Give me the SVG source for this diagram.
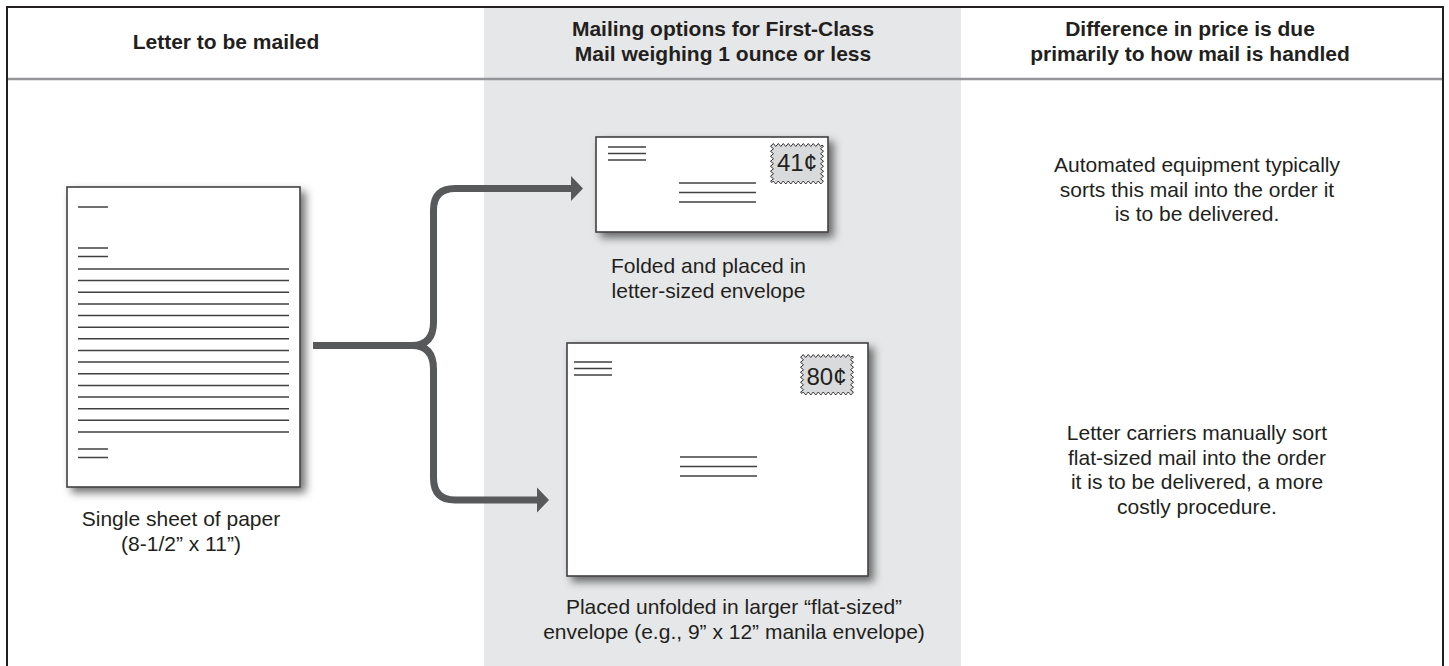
<svg xmlns="http://www.w3.org/2000/svg" xmlns:xlink="http://www.w3.org/1999/xlink" width="1449" height="666" viewBox="0 0 1449 666">
<style>
.hd{font-family:"Liberation Sans",Arial,Helvetica,sans-serif;font-weight:bold;font-size:21px;fill:#231f20;text-anchor:middle}
.tx{font-family:"Liberation Sans",Arial,Helvetica,sans-serif;font-size:21px;fill:#231f20;text-anchor:middle}
.st{font-family:"Liberation Sans",Arial,Helvetica,sans-serif;font-size:24px;fill:#231f20;text-anchor:middle}
.ln{stroke:#414042;stroke-width:1.5;fill:none}
.paper{fill:#ffffff;stroke:#414042;stroke-width:1.6}
.conn{fill:none;stroke:#58595b;stroke-width:7}
.ah{fill:#58595b}
</style>
<defs>
<filter id="sh" x="-10%" y="-10%" width="130%" height="130%">
<feDropShadow dx="5" dy="5" stdDeviation="4" flood-color="#000" flood-opacity="0.55"/>
</filter>
<path id="stamp" d="M0 0 q1.25 -3 2.5 0 t2.5 0 t2.5 0 t2.5 0 t2.5 0 t2.5 0 t2.5 0 t2.5 0 t2.5 0 t2.5 0 t2.5 0 t2.5 0 t2.5 0 t2.5 0 t2.5 0 t2.5 0 t2.5 0 t2.5 0 t2.5 0 t2.5 0 q3 1.25 0 2.5 t0 2.5 t0 2.5 t0 2.5 t0 2.5 t0 2.5 t0 2.5 t0 2.5 t0 2.5 t0 2.5 t0 2.5 t0 2.5 t0 2.5 t0 2.5 t0 2.5 q-1.25 3 -2.5 0 t-2.5 0 t-2.5 0 t-2.5 0 t-2.5 0 t-2.5 0 t-2.5 0 t-2.5 0 t-2.5 0 t-2.5 0 t-2.5 0 t-2.5 0 t-2.5 0 t-2.5 0 t-2.5 0 t-2.5 0 t-2.5 0 t-2.5 0 t-2.5 0 t-2.5 0 q-3 -1.25 0 -2.5 t0 -2.5 t0 -2.5 t0 -2.5 t0 -2.5 t0 -2.5 t0 -2.5 t0 -2.5 t0 -2.5 t0 -2.5 t0 -2.5 t0 -2.5 t0 -2.5 t0 -2.5 t0 -2.5 Z" fill="#d9dadb" stroke="#231f20" stroke-width="0.9"/>
</defs>

<g id="background">
<rect x="0" y="0" width="1449" height="666" fill="#ffffff"/>
<rect x="484" y="6" width="477" height="660" fill="#e6e7e8"/>
<line x1="7" y1="79" x2="1443" y2="79" stroke="#939598" stroke-width="2.5"/>
<path d="M7 666 V7 H1443 V666" fill="none" stroke="#231f20" stroke-width="2"/>
</g>

<g id="headers">
<text class="hd" x="226" y="49">Letter to be mailed</text>
<text class="hd" x="723" y="35.5">Mailing options for First-Class</text>
<text class="hd" x="723" y="60.5">Mail weighing 1 ounce or less</text>
<text class="hd" x="1190" y="35.5">Difference in price is due</text>
<text class="hd" x="1190" y="60.5">primarily to how mail is handled</text>
</g>

<g id="letter">
<rect class="paper" x="67" y="187" width="233" height="300" filter="url(#sh)"/>
<g class="ln">
<line x1="78" y1="207" x2="108" y2="207"/>
<line x1="78" y1="248" x2="108" y2="248"/>
<line x1="78" y1="256.5" x2="108" y2="256.5"/>
<line x1="78" y1="269" x2="289" y2="269"/>
<line x1="78" y1="280.6" x2="289" y2="280.6"/>
<line x1="78" y1="292.3" x2="289" y2="292.3"/>
<line x1="78" y1="303.9" x2="289" y2="303.9"/>
<line x1="78" y1="315.6" x2="289" y2="315.6"/>
<line x1="78" y1="327.2" x2="289" y2="327.2"/>
<line x1="78" y1="338.8" x2="289" y2="338.8"/>
<line x1="78" y1="350.5" x2="289" y2="350.5"/>
<line x1="78" y1="362.1" x2="289" y2="362.1"/>
<line x1="78" y1="373.8" x2="289" y2="373.8"/>
<line x1="78" y1="385.4" x2="289" y2="385.4"/>
<line x1="78" y1="397" x2="289" y2="397"/>
<line x1="78" y1="408.7" x2="289" y2="408.7"/>
<line x1="78" y1="420.3" x2="289" y2="420.3"/>
<line x1="78" y1="432" x2="289" y2="432"/>
<line x1="78" y1="449" x2="108" y2="449"/>
<line x1="78" y1="457.5" x2="108" y2="457.5"/>
</g>
<text class="tx" x="181" y="526">Single sheet of paper</text>
<text class="tx" x="181" y="551">(8-1/2” x 11”)</text>
</g>

<g id="connectors">
<path class="conn" d="M313 345.5 H414"/>
<path class="conn" d="M573 188.5 H455 Q433.5 188.5 433.5 210 V322 Q433.5 345.5 412 345.5 Q433.5 345.5 433.5 369 V478 Q433.5 500 455 500 H540"/>
<polygon class="ah" points="571,176 583,188.5 571,201"/>
<polygon class="ah" points="537,487.5 549,500 537,512.5"/>
</g>

<g id="small-envelope">
<rect class="paper" x="596" y="137" width="232" height="95" filter="url(#sh)"/>
<g class="ln">
<line x1="608" y1="147" x2="646" y2="147"/>
<line x1="608" y1="153.5" x2="646" y2="153.5"/>
<line x1="608" y1="160" x2="646" y2="160"/>
<line x1="679" y1="183" x2="756" y2="183"/>
<line x1="679" y1="192.5" x2="756" y2="192.5"/>
<line x1="679" y1="202" x2="756" y2="202"/>
</g>
<use xlink:href="#stamp" x="772" y="145"/>
<text class="st" x="797" y="171">41¢</text>
<text class="tx" x="708.5" y="273">Folded and placed in</text>
<text class="tx" x="708.5" y="297.5">letter-sized envelope</text>
</g>

<g id="large-envelope">
<rect class="paper" x="567" y="343" width="301" height="233" filter="url(#sh)"/>
<g class="ln">
<line x1="574" y1="362" x2="612" y2="362"/>
<line x1="574" y1="368.5" x2="612" y2="368.5"/>
<line x1="574" y1="375" x2="612" y2="375"/>
<line x1="680" y1="457" x2="757" y2="457"/>
<line x1="680" y1="466.5" x2="757" y2="466.5"/>
<line x1="680" y1="476" x2="757" y2="476"/>
</g>
<use xlink:href="#stamp" x="802" y="356"/>
<text class="st" x="826.5" y="385">80¢</text>
<text class="tx" x="734" y="614">Placed unfolded in larger “flat-sized”</text>
<text class="tx" x="734" y="639">envelope (e.g., 9” x 12” manila envelope)</text>
</g>

<g id="note-automated">
<text class="tx" x="1197" y="172">Automated equipment typically</text>
<text class="tx" x="1197" y="196.5">sorts this mail into the order it</text>
<text class="tx" x="1197" y="221">is to be delivered.</text>
</g>

<g id="note-manual">
<text class="tx" x="1197" y="440">Letter carriers manually sort</text>
<text class="tx" x="1197" y="464.5">flat-sized mail into the order</text>
<text class="tx" x="1197" y="489">it is to be delivered, a more</text>
<text class="tx" x="1197" y="513.5">costly procedure.</text>
</g>
</svg>
